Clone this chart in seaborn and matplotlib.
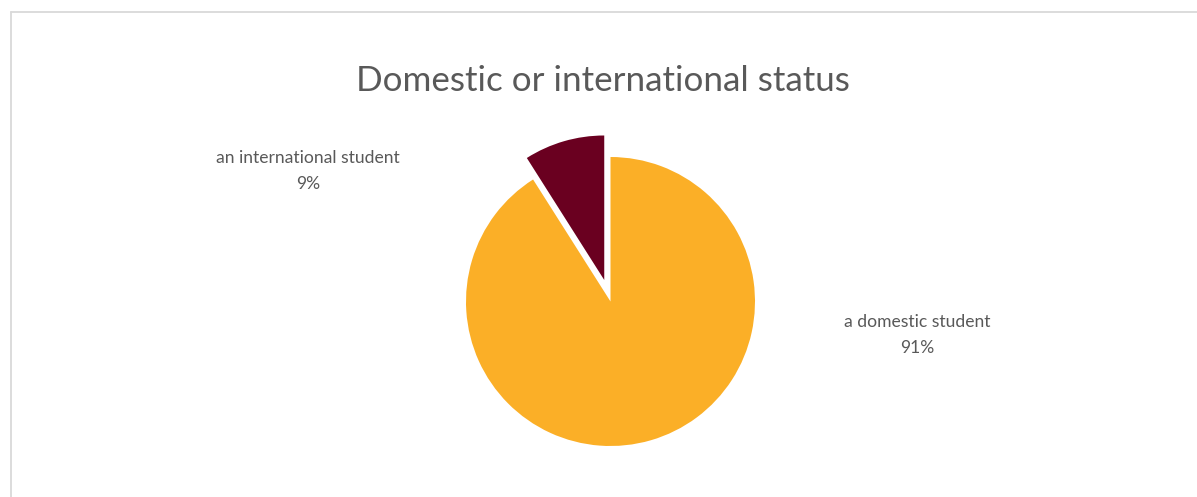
import matplotlib
matplotlib.use("Agg")
import matplotlib.pyplot as plt
import seaborn as sns
from matplotlib.lines import Line2D

# Survey shares (percent)
categories = ["an international student", "a domestic student"]
shares = [9, 91]
colors = ["#6A0020", "#FBAF27"]
explode_frac = [0.155, 0.0]

sns.set_theme(style="white")
plt.rcParams["font.family"] = ["Lato", "DejaVu Sans"]

W, H = 1197, 497
fig = plt.figure(figsize=(W / 100, H / 100), dpi=100)
fig.patch.set_facecolor("white")

# Axes spanning the whole canvas in pixel units (y measured upward)
ax = fig.add_axes([0, 0, 1, 1])

cx, cy, r = 610.5, H - 301.5, 144.5
ax.pie(shares, colors=colors, explode=[e * r for e in explode_frac],
       startangle=90, counterclock=True, center=(cx, cy), radius=r,
       wedgeprops=dict(linewidth=0), frame=False)
ax.set_xlim(0, W)
ax.set_ylim(0, H)
ax.set_aspect("equal")
ax.axis("off")

text_color = "#595959"
label_pos = [(308, H - 171), (917, H - 335)]
for name, val, (lx, ly) in zip(categories, shares, label_pos):
    ax.text(lx, ly, f"{name}\n{val}%", ha="center", va="center",
            fontsize=12.6, color=text_color, linespacing=1.75)

ax.text(603, H - 81, "Domestic or international status", ha="center",
        va="center", fontsize=25.2, color=text_color)

# Chart frame border along the top and left edges
border = "#D9D9D9"
fig.add_artist(Line2D([11 / W, 11 / W], [0, 1 - 12 / H], color=border,
                      lw=1.3, transform=fig.transFigure))
fig.add_artist(Line2D([11 / W, 1], [1 - 12 / H, 1 - 12 / H], color=border,
                      lw=1.3, transform=fig.transFigure))

fig.savefig("out.png", dpi=100, facecolor="white")
